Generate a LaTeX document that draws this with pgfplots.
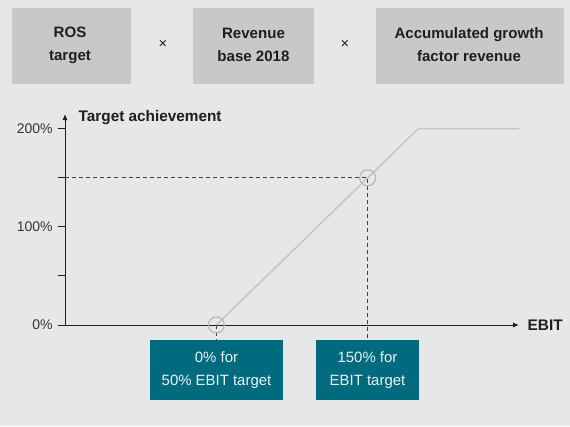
\documentclass[border=0pt]{standalone}
\usepackage{fontspec}
\setmainfont{Liberation Sans}
\usepackage{pgfplots}
\pgfplotsset{compat=1.18}
\usetikzlibrary{arrows.meta}
\definecolor{bg}{HTML}{E6E7E9}
\definecolor{boxgray}{HTML}{C8C8C8}
\definecolor{petrol}{HTML}{006B7E}
\definecolor{linegray}{HTML}{C4C4C4}
\definecolor{circgray}{HTML}{B4B4B4}
\definecolor{ink}{HTML}{1E1E1E}
\begin{document}
\begin{tikzpicture}[x=0.75pt,y=-0.75pt]
% background, 1 unit = 1 px of the reference
\fill[bg] (0,0) rectangle (570,426);

% formula boxes
\fill[boxgray] (12,8) rectangle (131,84);
\fill[boxgray] (193,8) rectangle (314,84);
\fill[boxgray] (376,8) rectangle (564,84);
\begin{scope}[every node/.style={align=center, text=ink, font=\bfseries\fontsize{11.3}{17.2}\selectfont}]
  \node at (70,45) {ROS\\target};
  \node at (253.5,45) {Revenue\\base 2018};
  \node at (469,45) {Accumulated growth\\factor revenue};
\end{scope}
\node[text=ink, font=\fontsize{11}{12}\selectfont] at (163,44) {×};
\node[text=ink, font=\fontsize{11}{12}\selectfont] at (345,44) {×};

\begin{axis}[
    at={(48.75pt,-243.75pt)}, anchor=origin,
    scale only axis,
    width=340.5pt, height=158.25pt,
    xmin=0, xmax=150, ymin=0, ymax=215,
    axis lines=left,
    axis line style={ink, line width=0.75pt, -{Latex[length=4.5pt,width=3.8pt]}},
    clip=false,
    xtick=\empty,
    ytick={0,50,100,150,200},
    yticklabels={0\%,,100\%,,200\%},
    tick align=outside,
    major tick length=5.25pt,
    tick style={ink, line width=0.75pt},
    yticklabel style={font=\fontsize{10.5}{12}\selectfont, text=ink!90, xshift=-0.5pt},
  ]
  % dashed guides
  \addplot[ink!85, line width=0.75pt, dash pattern=on 3pt off 2.3pt] coordinates {
      (0,150) (100,150) (100,-15.3)
  };
  \addplot[ink!85, line width=0.75pt, dash pattern=on 3pt off 2.3pt] coordinates {
      (50,0) (50,-15.3)
  };
  % payout curve
  \addplot[linegray, line width=1.1pt] coordinates {
      (50,0)
      (116.7,200)
      (150,200)
  };
  % marked points
  \addplot[only marks, mark=o, mark size=6pt,
           mark options={draw=circgray, line width=0.8pt}] coordinates {
      (50,0)
      (100,150)
  };
\end{axis}

% axis titles
\node[anchor=west, text=ink, font=\bfseries\fontsize{11.5}{12}\selectfont] at (74,118) {Target achievement};
\node[anchor=west, text=ink, font=\bfseries\fontsize{11.5}{12}\selectfont] at (523,325) {EBIT};

% result boxes
\fill[petrol] (150,340) rectangle (283,400);
\fill[petrol] (316,340) rectangle (419,400);
\begin{scope}[every node/.style={align=center, text=white!92!petrol, font=\fontsize{11.2}{17.2}\selectfont}]
  \node at (216.5,370) {0\% for\\50\% EBIT target};
  \node at (367.5,370) {150\% for\\EBIT target};
\end{scope}
\end{tikzpicture}
\end{document}
